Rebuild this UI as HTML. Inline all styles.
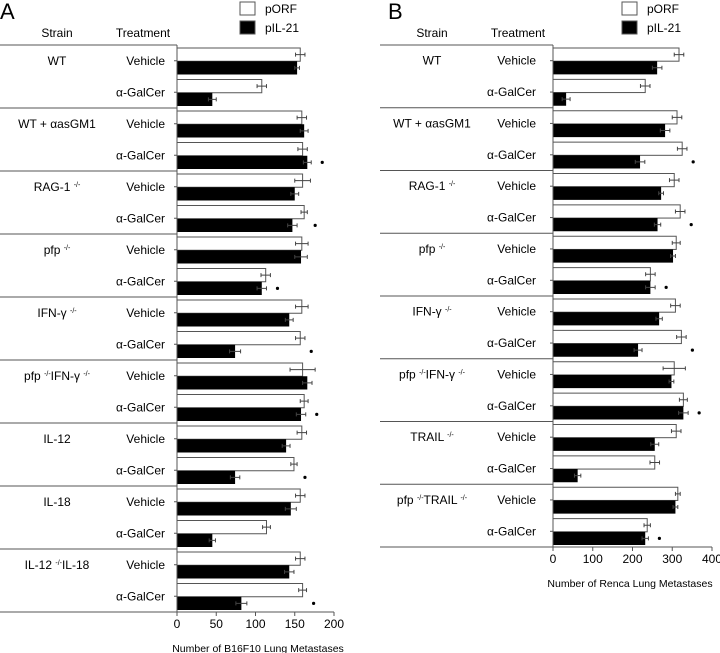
<!DOCTYPE html>
<html><head><meta charset="utf-8"><style>
body{margin:0;background:#fff;}
svg{display:block;font-family:"Liberation Sans",Arial,sans-serif;}
</style></head><body>
<svg id="s" width="720" height="653" viewBox="0 0 720 653"></svg>
<script>
const strainsA = ["WT","WT + \u03b1asGM1","RAG-1 ^-/-","pfp ^-/-","IFN-\u03b3 ^-/-","pfp ^-/-IFN-\u03b3 ^-/-","IL-12","IL-18","IL-12 ^-/-IL-18"];
const strainsB = ["WT","WT + \u03b1asGM1","RAG-1 ^-/-","pfp ^-/-","IFN-\u03b3 ^-/-","pfp ^-/-IFN-\u03b3 ^-/-","TRAIL ^-/-","pfp ^-/-TRAIL ^-/-"];
const treatments = ["Vehicle","\u03b1-GalCer"];
const porfA = [157,108,159,160,160,162,159,113,159,157,160,162,159,149,157,114,157,160];
const porfErrA = [6,6,6,6,10,4,8,6,8,6,16,5,6,4,6,5,6,5];
const pil21A = [153,45,162,166,150,147,158,108,143,74,166,158,139,74,145,45,143,82];
const pil21ErrA = [3,5,5,5,5,6,8,6,5,7,6,6,5,6,7,4,6,7];
const starA = [0,0,0,1,0,1,0,1,0,1,0,1,0,1,0,0,0,1];
const porfB = [317,232,312,325,305,320,310,245,308,323,305,328,310,256,314,237];
const porfErrB = [12,12,12,12,12,12,10,12,12,12,28,10,12,12,6,8];
const pil21B = [262,33,282,219,272,263,302,245,267,214,298,328,256,62,308,232];
const pil21ErrB = [12,10,12,12,6,8,6,12,8,10,6,12,10,8,6,8];
const starB = [0,0,0,1,0,1,0,1,0,1,0,1,0,0,0,1];
const ticksA = [0,50,100,150,200];
const ticksB = [0,100,200,300,400];

const NS="http://www.w3.org/2000/svg", svg=document.getElementById('s');
function mk(tag,attrs,parent){const e=document.createElementNS(NS,tag);for(const k in attrs)e.setAttribute(k,attrs[k]);(parent||svg).appendChild(e);return e;}
function label(txt,x,y,anchor,g,size){
  const t=mk('text',{x:x,y:y,'text-anchor':anchor,'font-size':size||12,fill:'#000'},g);
  const parts=txt.split(/(\^-\/-)/);
  parts.forEach(p=>{if(!p)return;const ts=mk('tspan',{},t);
    if(p==='^-/-'){ts.setAttribute('font-size','7');ts.setAttribute('dy','-4');ts.textContent='-/-';}
    else{ if(t.lastSpanSup){ts.setAttribute('dy','4');} ts.textContent=p;}
    t.lastSpanSup=(p==='^-/-');});
  return t;
}
function panel(cfg){
  const g=mk('g',{});
  
  
  const x=v=>cfg.x0+v*cfg.scale;
  const n=cfg.strains.length*2, rowH=(cfg.bottom-cfg.top)/n;
  const yRow=i=>cfg.top+i*rowH;
  const L=mk('text',{x:cfg.letterX,y:19,'font-size':22,fill:'#000'},g);L.textContent=cfg.letter;
  
  // legend
  [['pORF','#fff'],['pIL-21','#000']].forEach((l,i)=>{
    const r=mk('rect',{x:cfg.legX,y:2+i*19,width:15,height:13,fill:l[1],stroke:'#555','stroke-width':1},g);
    
    const t=mk('text',{x:cfg.legX+25,y:13+i*19,'font-size':12},g);t.textContent=l[0];
    
  });
  const h1=mk('text',{x:cfg.strainX,y:37,'text-anchor':'middle','font-size':12},g);h1.textContent='Strain';
  
  const h2=mk('text',{x:cfg.treatX,y:37,'text-anchor':'middle','font-size':12},g);h2.textContent='Treatment';
  
  // separators
  for(let s=0;s<=cfg.strains.length;s++){
    const y=yRow(s*2);
    const ln=mk('line',{x1:cfg.tableX,x2:cfg.x0,y1:y,y2:y,stroke:'#555','stroke-width':1},g);
    
    if(s<cfg.strains.length){
      const t=label(cfg.strains[s],cfg.strainX,y+rowH*0.5+4,'middle',g);
      
    }
  }
  for(let i=0;i<n;i++){
    const y=yRow(i);
    const t=mk('text',{x:cfg.treatR,y:y+rowH*0.5+4,'text-anchor':'end','font-size':12},g);t.textContent=treatments[i%2];
    
    const tk=mk('line',{x1:cfg.x0-3,x2:cfg.x0,y1:y+rowH/2,y2:y+rowH/2,stroke:'#555'},g);
    
    const bh=(rowH-5)/2, wy=y+3, by=wy+bh;
    const w=mk('rect',{x:cfg.x0,y:wy,width:x(cfg.porf[i])-cfg.x0,height:bh,fill:'#fff',stroke:'#555','stroke-width':1},g);
    
    const b=mk('rect',{x:cfg.x0,y:by,width:x(cfg.pil[i])-cfg.x0,height:bh,fill:'#000'},g);
    
    [[cfg.porf[i],cfg.porfErr[i],wy+bh/2],[cfg.pil[i],cfg.pilErr[i],by+bh/2]].forEach(e=>{
      const x1=x(e[0]-e[1]),x2=x(e[0]+e[1]);
      const el=mk('path',{d:`M${x1},${e[2]}H${x2}M${x1},${e[2]-2}v4M${x2},${e[2]-2}v4`,stroke:'#444','stroke-width':1,fill:'none'},g);
      
    });
    if(cfg.star[i]){
      const sx=x(Math.max(cfg.pil[i]+cfg.pilErr[i],cfg.porf[i]))+cfg.starGap;
      const st=mk('circle',{cx:sx,cy:by+bh/2,r:1.6,fill:'#000'},g);
      
    }
  }
  const ax=mk('line',{x1:cfg.x0,x2:cfg.x0,y1:cfg.top,y2:cfg.bottom,stroke:'#555'},g);
  
  const xa=mk('line',{x1:cfg.tableX,x2:x(cfg.ticks[cfg.ticks.length-1]),y1:cfg.bottom,y2:cfg.bottom,stroke:'#555'},g);
  
  cfg.ticks.forEach(v=>{
    const tl=mk('line',{x1:x(v),x2:x(v),y1:cfg.bottom,y2:cfg.bottom+4,stroke:'#555'},g);
    
    const tt=mk('text',{x:x(v),y:cfg.bottom+16,'text-anchor':'middle','font-size':12},g);tt.textContent=v;
    
  });
  const xt=mk('text',{x:cfg.titleX,y:cfg.bottom+40,'text-anchor':'middle','font-size':10.5},g);xt.textContent=cfg.title;
  
}
panel({name:'panel-a-b16f10',letter:'A',letterX:0,legX:240,strainX:57,treatX:143,treatR:165,tableX:0,x0:177,scale:0.785,top:45,bottom:612,
  strains:strainsA,porf:porfA,porfErr:porfErrA,pil:pil21A,pilErr:pil21ErrA,star:starA,ticks:ticksA,starGap:11,
  title:'Number of  B16F10 Lung Metastases',titleX:258});
panel({name:'panel-b-renca',letter:'B',letterX:388,legX:622,strainX:432,treatX:518,treatR:536,tableX:380,x0:553,scale:0.3975,top:45,bottom:547,
  strains:strainsB,porf:porfB,porfErr:porfErrB,pil:pil21B,pilErr:pil21ErrB,star:starB,ticks:ticksB,starGap:11,
  title:'Number of Renca Lung Metastases',titleX:630});
</script>
</body></html>
